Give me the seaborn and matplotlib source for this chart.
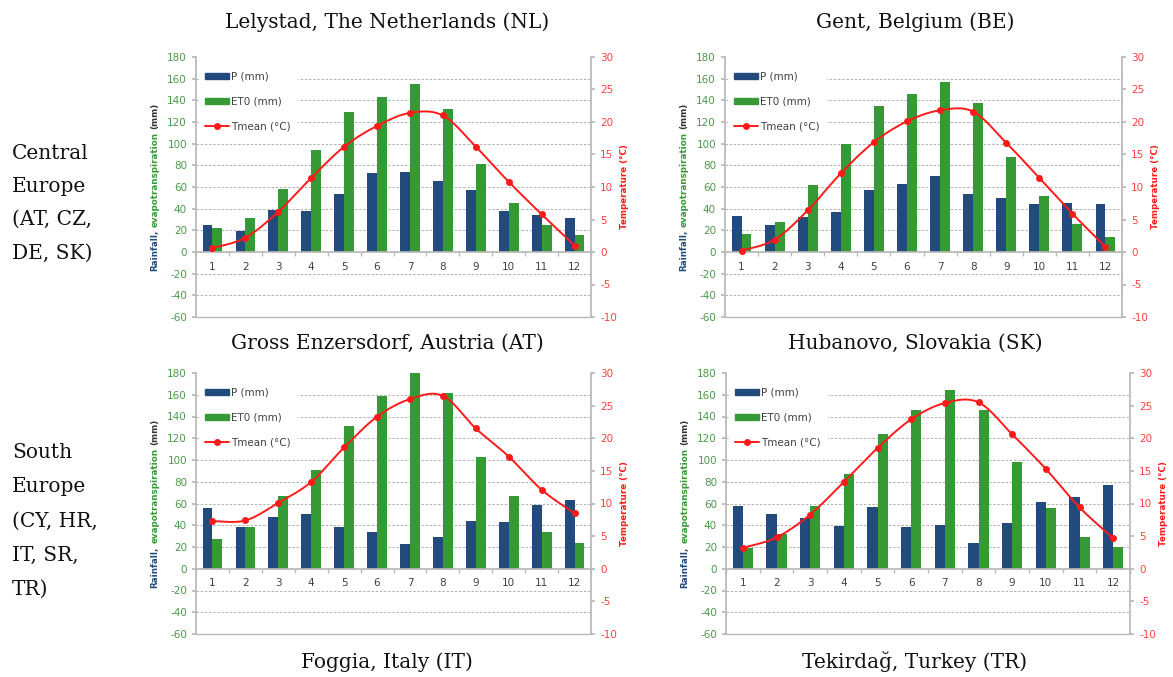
import numpy as np
import pandas as pd
import seaborn as sns
import matplotlib.pyplot as plt
from matplotlib.patches import Patch
from matplotlib.lines import Line2D

# monthly climate data
months = list(range(1, 13))

lelystad_p = [25, 19, 39, 38, 54, 73, 74, 66, 57, 38, 34, 31]
lelystad_et0 = [22, 31, 58, 94, 129, 143, 155, 132, 81, 45, 25, 16]
lelystad_t = [0.6, 2.2, 6.2, 11.4, 16.2, 19.4, 21.4, 21.0, 16.2, 10.8, 5.8, 1.0]

gent_p = [33, 25, 32, 37, 57, 63, 70, 54, 50, 44, 45, 44]
gent_et0 = [17, 28, 62, 100, 135, 146, 157, 138, 88, 52, 26, 14]
gent_t = [0.2, 1.9, 6.4, 12.1, 16.9, 20.1, 21.8, 21.6, 16.8, 11.4, 5.9, 0.8]

foggia_p = [56, 38, 48, 50, 38, 34, 23, 29, 44, 43, 59, 63]
foggia_et0 = [27, 38, 67, 91, 131, 159, 180, 162, 103, 67, 34, 24]
foggia_t = [7.3, 7.4, 10.1, 13.3, 18.6, 23.3, 26.0, 26.5, 21.5, 17.2, 12.1, 8.5]

tekirdag_p = [58, 50, 47, 39, 57, 38, 40, 24, 42, 61, 66, 77]
tekirdag_et0 = [19, 32, 58, 87, 124, 146, 164, 146, 98, 56, 29, 20]
tekirdag_t = [3.2, 4.8, 8.3, 13.3, 18.5, 22.9, 25.4, 25.5, 20.6, 15.3, 9.4, 4.7]

titles = ["Lelystad, The Netherlands (NL)", "Gent, Belgium (BE)",
          "Gross Enzersdorf, Austria (AT)", "Hubanovo, Slovakia (SK)",
          "Foggia, Italy (IT)", "Tekirdağ, Turkey (TR)"]
regions = ["Central\nEurope\n(AT, CZ,\nDE, SK)", "South\nEurope\n(CY, HR,\nIT, SR,\nTR)"]

BLUE = "#224a7c"
GREEN = "#359a35"
RED = "#ff1a1a"
TICK_GREEN = "#4c9a4c"
TICK_RED = "#ff4040"
GRAY = "#b8b8b8"
TXT = "#404040"

sns.set_theme(style="white")
plt.rcParams["font.family"] = ["DejaVu Sans"]
plt.rcParams["axes.unicode_minus"] = False

W, H = 1173, 677
fig = plt.figure(figsize=(W / 100, H / 100), dpi=100)


def smooth(x, y, n=24):
    # Catmull-Rom curve through the points, like Excel's smoothed line
    pts = np.column_stack([x, y]).astype(float)
    out = []
    for i in range(len(pts) - 1):
        p0 = pts[i - 1] if i > 0 else pts[i]
        p1, p2 = pts[i], pts[i + 1]
        p3 = pts[i + 2] if i + 2 < len(pts) else pts[i + 1]
        c1 = p1 + (p2 - p0) / 6
        c2 = p2 - (p3 - p1) / 6
        t = np.linspace(0, 1, n)[:, None]
        seg = (1 - t) ** 3 * p1 + 3 * (1 - t) ** 2 * t * c1 + 3 * (1 - t) * t ** 2 * c2 + t ** 3 * p2
        out.append(seg)
    out = np.vstack(out)
    return out[:, 0], out[:, 1]


def draw_panel(rect, p, et0, tmean):
    ax = fig.add_axes(rect)
    df = pd.DataFrame({
        "month": months * 2,
        "value": p + et0,
        "series": ["P (mm)"] * 12 + ["ET0 (mm)"] * 12,
    })
    sns.barplot(data=df, x="month", y="value", hue="series", ax=ax,
                palette=[BLUE, GREEN], width=0.6, saturation=1,
                legend=False, linewidth=0)
    ax.set_xlim(-0.5, 11.5)
    ax.set_ylim(-60, 180)
    ax.set_yticks(range(-60, 181, 20))
    ax.set_xlabel("")
    ax.set_ylabel("")
    for v in range(-40, 161, 20):
        if v != 0:
            ax.axhline(v, color="#a6a6a6", lw=0.6, ls=(0, (3, 2)), zorder=0)
    ax.axhline(-60, color=GRAY, lw=1.0, zorder=0, clip_on=False)
    for s in ["top", "right"]:
        ax.spines[s].set_visible(False)
    ax.spines["left"].set_color(GRAY)
    ax.spines["bottom"].set_position(("data", 0))
    ax.spines["bottom"].set_color(GRAY)
    ax.tick_params(axis="y", colors=GRAY, labelcolor=TICK_GREEN, labelsize=7.5,
                   length=3, direction="out", left=True)
    ax.tick_params(axis="x", which="major", length=0, labelcolor=TXT, labelsize=7.5, pad=7)
    ax.set_xticks(np.arange(-0.5, 12, 1), minor=True)
    ax.tick_params(axis="x", which="minor", length=3, color=GRAY, bottom=True)

    ax2 = ax.twinx()
    ax2.set_ylim(-10, 30)
    ax2.set_yticks(range(-10, 31, 5))
    sx, sy = smooth(np.arange(12), tmean)
    ax2.plot(sx, sy, color=RED, lw=1.4)
    ax2.plot(np.arange(12), tmean, "o", color=RED, ms=4)
    for s in ["top", "left", "bottom"]:
        ax2.spines[s].set_visible(False)
    ax2.spines["right"].set_color(GRAY)
    ax2.tick_params(axis="y", colors=GRAY, labelcolor=TICK_RED, labelsize=7.5,
                    length=3, direction="out", right=True)
    ax2.set_ylabel("Temperature (°C)", color=RED, fontsize=6.3, fontweight="bold", labelpad=2)

    handles = [Patch(color=BLUE, label="P (mm)"), Patch(color=GREEN, label="ET0 (mm)"),
               Line2D([], [], color=RED, marker="o", ms=4, lw=1.4, label="Tmean (°C)")]
    leg = ax2.legend(handles=handles, loc="upper left", bbox_to_anchor=(0.0, 0.98),
                     fontsize=7.5, frameon=True, facecolor="white", edgecolor="white",
                     framealpha=1, handlelength=2.3, handleheight=0.6, labelspacing=1.45,
                     handletextpad=0.2, borderpad=0.6, borderaxespad=0.3)
    for t in leg.get_texts():
        t.set_color(TXT)
    return ax


def stacked_ylabel(ax, parts, gap=41):
    # multi-coloured rotated y label built from pieces
    fig.canvas.draw()
    r = fig.canvas.get_renderer()
    bb = ax.get_position()
    x = bb.x0 - gap / W
    texts = [fig.text(0, 0, s, rotation=90, color=c, fontsize=6.3, fontweight="bold",
                      ha="center", va="bottom") for s, c in parts]
    hs = [t.get_window_extent(r).height for t in texts]
    sp = 3
    total = sum(hs) + sp * (len(hs) - 1)
    y = (bb.y0 + bb.y1) / 2 * H - total / 2
    for t, h in zip(texts, hs):
        t.set_position((x, y / H))
        y += h + sp


rects = [
    [196 / W, 1 - 317 / H, 395 / W, 260 / H],
    [725 / W, 1 - 317 / H, 397 / W, 260 / H],
    [196 / W, 1 - 634 / H, 395 / W, 261 / H],
    [726 / W, 1 - 634 / H, 404 / W, 261 / H],
]
data = [(lelystad_p, lelystad_et0, lelystad_t), (gent_p, gent_et0, gent_t),
        (foggia_p, foggia_et0, foggia_t), (tekirdag_p, tekirdag_et0, tekirdag_t)]

axes = [draw_panel(r, *d) for r, d in zip(rects, data)]
for ax in axes:
    stacked_ylabel(ax, [("Rainfall,", BLUE), ("evapotranspiration", GREEN), ("(mm)", "#333333")])

serif = ["DejaVu Serif"]
title_pos = [(387, 22), (915, 22), (387, 343), (915, 343), (387, 662), (915, 662)]
for t, (x, y) in zip(titles, title_pos):
    fig.text(x / W, 1 - y / H, t, ha="center", va="center", fontsize=14.5, family=serif, color="#111111")

fig.text(12 / W, 1 - 203 / H, regions[0], ha="left", va="center", fontsize=14.5,
         family=serif, linespacing=1.95, color="#111111")
fig.text(12 / W, 1 - 521 / H, regions[1], ha="left", va="center", fontsize=14.5,
         family=serif, linespacing=2.0, color="#111111")

fig.savefig("out.png", dpi=100)
